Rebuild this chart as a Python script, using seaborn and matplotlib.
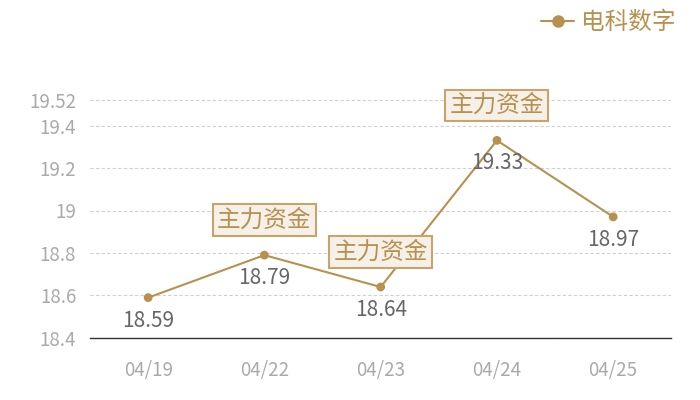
import numpy as np
import pandas as pd
import seaborn as sns
import matplotlib.pyplot as plt
from matplotlib.lines import Line2D

# data
dates = ['04/19', '04/22', '04/23', '04/24', '04/25']
prices = [18.59, 18.79, 18.64, 19.33, 18.97]
flags = ['', '主力资金', '主力资金', '主力资金', '']
y_ticks = [18.4, 18.6, 18.8, 19, 19.2, 19.4, 19.52]
y_tick_labels = ['18.4', '18.6', '18.8', '19', '19.2', '19.4', '19.52']
series_name = '电科数字'

# colors
gold = '#b8914f'
box_face = '#f5f0e8'
box_edge = '#c8a36a'
value_grey = '#666666'
tick_grey = '#aaaaaa'

sns.set_style('white')
plt.rcParams['font.family'] = ['Noto Sans CJK SC', 'DejaVu Sans']

df = pd.DataFrame({'date': dates, 'price': prices})

fig = plt.figure(figsize=(7, 4), dpi=100)
ax = fig.add_axes([0.1286, 0.155, 0.8304, 0.595])

sns.lineplot(data=df, x='date', y='price', color=gold, lw=1.5, ax=ax, zorder=3)
sns.scatterplot(data=df, x='date', y='price', color=gold, s=40, edgecolor='none', ax=ax, zorder=4)

# value labels below points
for i, v in enumerate(prices):
    ax.annotate(f'{v:.2f}', (i, v), xytext=(0, -23), textcoords='offset pixels',
                ha='center', va='center', fontsize=15, color=value_grey, zorder=5)

# flag boxes above points
for i, (v, f) in enumerate(zip(prices, flags)):
    if f:
        ax.annotate(f, (i, v), xytext=(0, 35), textcoords='offset pixels',
                    ha='center', va='center', fontsize=17, color=gold, zorder=6,
                    bbox=dict(boxstyle='square,pad=0.18', fc=box_face, ec=box_edge, lw=1.5))

ax.set_xlim(-0.5, 4.5)
ax.set_ylim(18.4, 19.52)
ax.set_yticks(y_ticks)
ax.set_yticklabels(y_tick_labels)
ax.set_xlabel('')
ax.set_ylabel('')
ax.tick_params(axis='both', labelsize=13.5, colors=tick_grey, length=0)
ax.tick_params(axis='x', pad=16)
ax.tick_params(axis='y', pad=10)
ax.grid(axis='y', ls=(0, (3, 2)), color='#d0d0d0', lw=0.8)
ax.set_axisbelow(True)
for side in ['top', 'right', 'left']:
    ax.spines[side].set_visible(False)
ax.spines['bottom'].set_color('#333333')
ax.spines['bottom'].set_linewidth(1)

# legend top right
handle = Line2D([0], [0], color=gold, lw=1.5, marker='o', markersize=8)
leg = fig.legend([handle], [series_name], loc='upper right', bbox_to_anchor=(0.996, 1.025),
                 frameon=False, fontsize=17, handlelength=1.4, handletextpad=0.3)
for t in leg.get_texts():
    t.set_color(gold)

fig.savefig('out.png', dpi=100)
